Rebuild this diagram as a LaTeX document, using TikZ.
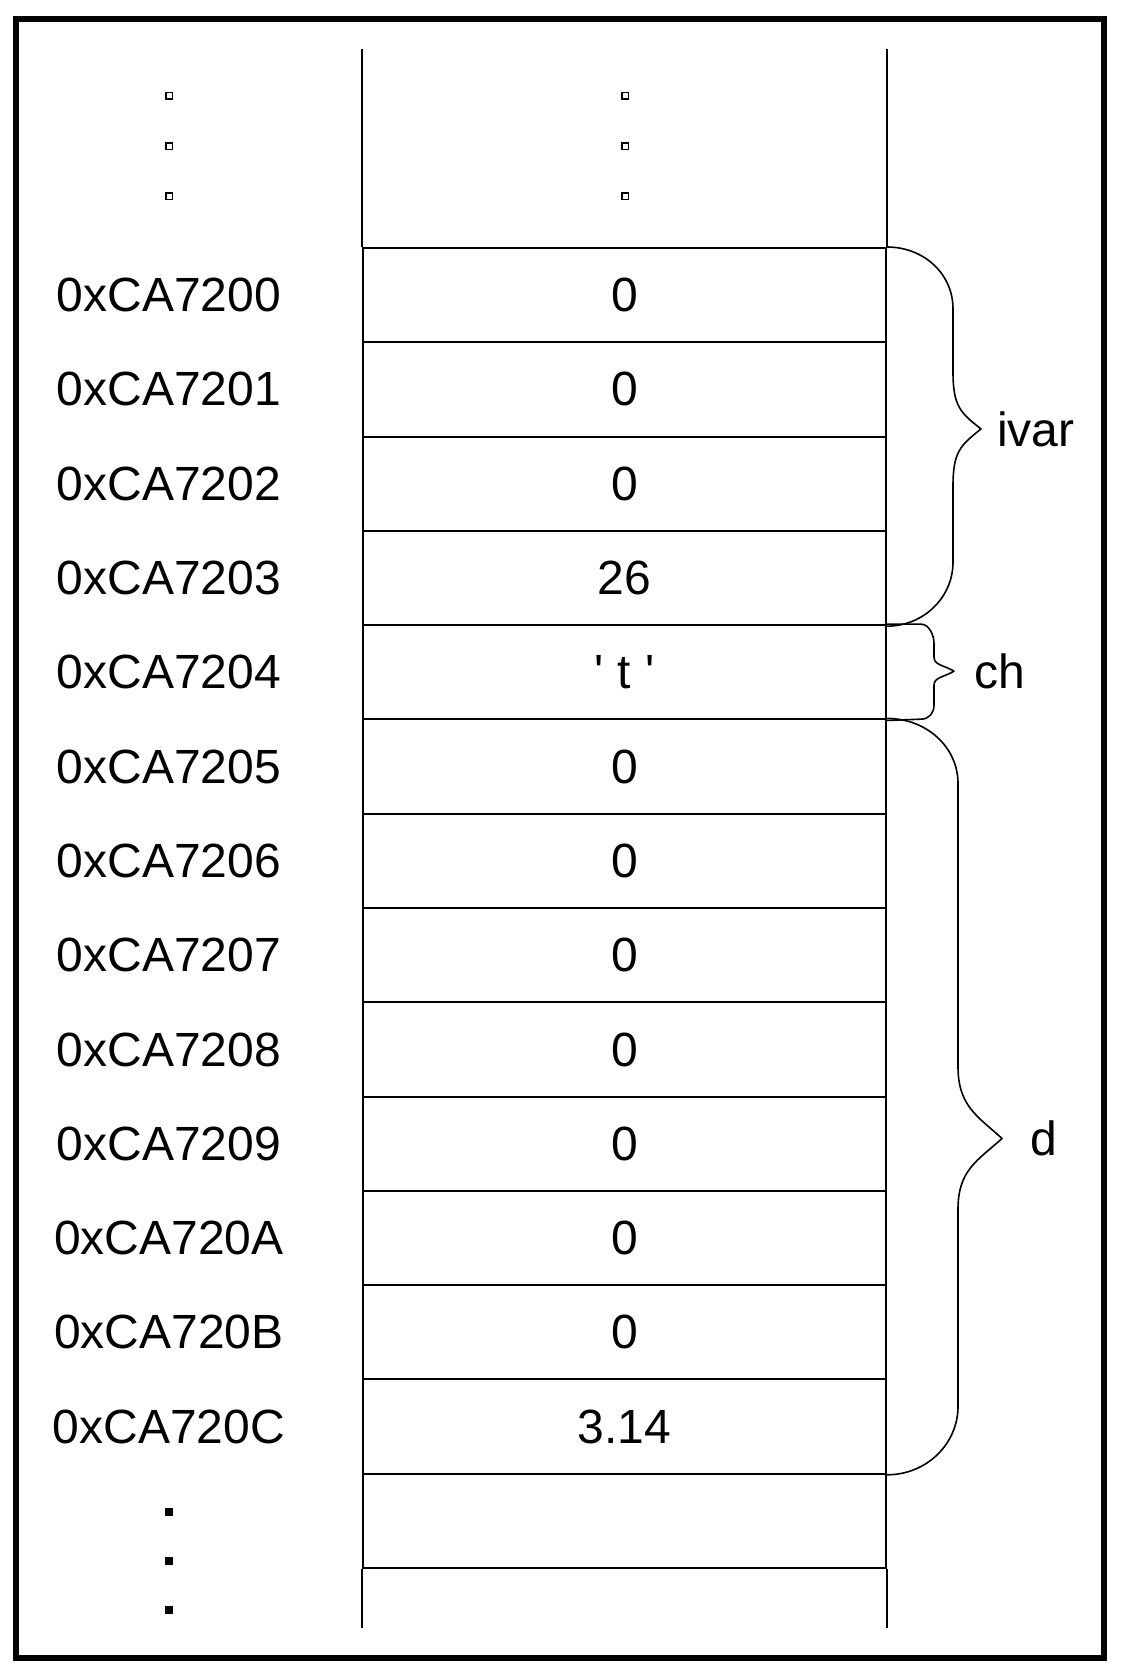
\documentclass[tikz,border=0pt]{standalone}
\usepackage{fontspec}
\setmainfont{Liberation Sans}
\usetikzlibrary{positioning}
\newcommand{\memfont}{\fontsize{48}{50}\selectfont}
\newcommand{\tick}{\textquotesingle}
\tikzset{
  cell/.style={rectangle,draw,line width=2pt,minimum width=523pt,minimum height=94.29pt,inner sep=0pt,font=\memfont},
  addr/.style={inner sep=0pt,font=\memfont},
  tag/.style={inner sep=0pt,font=\memfont},
  wall/.style={line width=1.5pt},
  brace/.style={line width=1.6pt,line join=round},
  frame/.style={line width=5.5pt},
  hdot/.style={rectangle,draw,line width=1.5pt,minimum size=6.5pt,inner sep=0pt},
  fdot/.style={rectangle,fill,minimum size=8pt,inner sep=0pt}
}
\begin{document}
\begin{tikzpicture}[x=1pt,y=-1pt]
  \useasboundingbox (0,0) rectangle (1122,1675);
  \draw[frame] (16,19) rectangle (1104,1658);

  % memory cells and addresses
  \foreach \v [count=\i from 0] in {0,0,0,26,{\tick\hspace{14pt}t\hspace{14pt}\tick},0,0,0,0,0,0,0,3.14,{}} {
    \node[cell] (c\i) at (624.5,{248+94.29*(\i+0.5)}) {\v};
  }
  \foreach \h [count=\i from 0] in {00,01,02,03,04,05,06,07,08,09,0A,0B,0C} {
    \node[addr] (a\i) at (169,{248+94.29*(\i+0.5)}) {0xCA72\h};
  }
  \draw[wall] (c0.north west) -- ++(0,-198);
  \draw[wall] (c0.north east) -- ++(0,-198);
  \draw[wall] (c13.south west) -- ++(0,59);
  \draw[wall] (c13.south east) -- ++(0,59);

  % dots
  \foreach \y [count=\k] in {96,146,196} {
    \node[hdot] (ta\k) at (169,\y) {};
    \node[hdot] (tv\k) at (625,\y) {};
  }
  \foreach \y [count=\k] in {1512,1561,1610} {
    \node[fdot] (ba\k) at (169,\y) {};
  }

  % braces
  \draw[brace] (c0.north east) .. controls +(36,0) and +(0,-36) .. ++(66,62)
    -- ++(0,63) .. controls +(0,35) and +(-20,-16) .. ++(28,57) coordinate (ivartip)
    .. controls +(-20,16) and +(0,-35) .. ++(-28,57)
    -- ++(0,76) .. controls +(0,36) and +(36,0) .. (c3.south east);
  \draw[brace] (c4.north east) -- ++(34,0) .. controls +(8,0) and +(0,-8) .. ++(13,19)
    -- ++(0,14) .. controls +(0,8) and +(-10,-6) .. ++(20,14) coordinate (chtip)
    .. controls +(-10,6) and +(0,-8) .. ++(-20,14)
    -- ++(0,20) .. controls +(0,8) and +(8,0) .. ++(-13,14) -- (c4.south east);
  \draw[brace] (c5.north east) .. controls +(40,0) and +(0,-36) .. ++(71,65)
    -- ++(0,283) .. controls +(0,40) and +(-24,-22) .. ++(44,72) coordinate (dtip)
    .. controls +(-24,22) and +(0,-40) .. ++(-44,71)
    -- ++(0,197) .. controls +(0,37) and +(40,0) .. (c12.south east);

  \node[tag,right=16pt of ivartip] (ivar) {ivar};
  \node[tag,right=20pt of chtip] (ch) {ch};
  \node[tag,right=28pt of dtip] (d) {d};
\end{tikzpicture}
\end{document}
